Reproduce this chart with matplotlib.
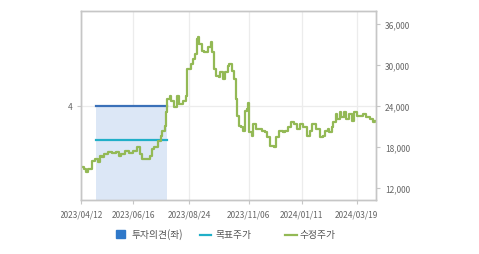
import matplotlib
matplotlib.use("Agg")
import pandas as pd
from matplotlib import pyplot as plt
from matplotlib.lines import Line2D
from matplotlib.patches import Rectangle

plt.rcParams['font.family'] = ['Noto Sans CJK KR', 'DejaVu Sans']

# adjusted close price (수정주가)
price_dates = [
    "2023-04-12", "2023-04-16", "2023-04-18", "2023-04-21", "2023-04-26", "2023-04-29",
    "2023-05-03", "2023-05-05", "2023-05-08", "2023-05-10", "2023-05-15", "2023-05-20",
    "2023-05-25", "2023-05-29", "2023-06-01", "2023-06-06", "2023-06-11", "2023-06-16",
    "2023-06-20", "2023-06-24", "2023-06-27", "2023-07-02", "2023-07-06", "2023-07-09",
    "2023-07-12", "2023-07-16", "2023-07-20", "2023-07-22", "2023-07-25", "2023-07-27",
    "2023-07-28", "2023-07-31", "2023-08-02", "2023-08-05", "2023-08-09", "2023-08-12",
    "2023-08-16", "2023-08-20", "2023-08-22", "2023-08-26", "2023-08-29", "2023-08-31",
    "2023-09-03", "2023-09-04", "2023-09-06", "2023-09-09", "2023-09-12", "2023-09-16",
    "2023-09-20", "2023-09-21", "2023-09-24", "2023-09-27", "2023-09-30", "2023-10-02",
    "2023-10-05", "2023-10-08", "2023-10-11", "2023-10-13", "2023-10-16", "2023-10-19",
    "2023-10-21", "2023-10-22", "2023-10-25", "2023-10-27", "2023-10-30", "2023-11-01",
    "2023-11-04", "2023-11-05", "2023-11-06", "2023-11-07", "2023-11-10", "2023-11-12",
    "2023-11-15", "2023-11-18", "2023-11-22", "2023-11-26", "2023-11-29", "2023-12-03",
    "2023-12-07", "2023-12-10", "2023-12-14", "2023-12-18", "2023-12-21", "2023-12-25",
    "2023-12-29", "2024-01-01", "2024-01-05", "2024-01-09", "2024-01-12", "2024-01-17",
    "2024-01-21", "2024-01-24", "2024-01-28", "2024-02-02", "2024-02-06", "2024-02-09",
    "2024-02-12", "2024-02-14", "2024-02-17", "2024-02-19", "2024-02-22", "2024-02-24",
    "2024-02-27", "2024-02-29", "2024-03-03", "2024-03-06", "2024-03-09", "2024-03-13",
    "2024-03-16", "2024-03-20", "2024-03-24", "2024-03-27", "2024-03-31", "2024-04-04",
    "2024-04-08", "2024-04-11",
]
prices = [
    15100, 14800, 14350, 14800, 16000, 16250,
    15800, 16700, 16500, 17000, 17250, 17100,
    17250, 16700, 17000, 17450, 17100, 17450,
    17950, 17000, 16250, 16250, 16700, 17700,
    18000, 18900, 19650, 20400, 21100, 23100,
    25000, 25500, 24800, 23800, 25500, 24300,
    24800, 25500, 29400, 30150, 30900, 31600,
    33800, 34050, 33100, 32100, 31850, 32600,
    33300, 31900, 29400, 28400, 28250, 29000,
    27950, 29000, 29900, 30150, 29150, 27950,
    25000, 22600, 21100, 20900, 20400, 23300,
    23550, 24500, 23100, 20200, 19650, 21350,
    20650, 20650, 20400, 20150, 19400, 18200,
    17950, 19400, 20400, 20150, 20400, 20900,
    21600, 21350, 20650, 21350, 20900, 19650,
    20400, 21350, 20650, 19400, 19650, 20400,
    20650, 20150, 20900, 21600, 22800, 22100,
    23100, 22350, 23100, 22100, 22800, 21850,
    23100, 22600, 22600, 22800, 22350, 22100,
    21600, 21850,
]

# investment opinion (투자의견, left axis) and target price (목표주가)
opinion_dates = ["2023-04-30", "2023-07-28"]
opinion_values = [4, 4]
target_dates = ["2023-04-30", "2023-07-28"]
target_values = [19000, 19000]

x_ticks = ["2023-04-12", "2023-06-16", "2023-08-24", "2023-11-06", "2024-01-11", "2024-03-19"]
price_ticks = [12000, 18000, 24000, 30000, 36000]

price_dates = pd.to_datetime(price_dates)
opinion_dates = pd.to_datetime(opinion_dates)
target_dates = pd.to_datetime(target_dates)
x_ticks = pd.to_datetime(x_ticks)

frame = '#c6c6c6'
txt = '#666666'

fig = plt.figure(figsize=(4.79, 2.55), dpi=100)
ax = fig.add_axes([81 / 479, 1 - 201 / 255, 295 / 479, 189 / 255])
ax2 = ax.twinx()

ax.fill_between(opinion_dates, 0, opinion_values, color='#dce7f6', lw=0)
ax.plot(opinion_dates, opinion_values, color='#3a70b8', lw=1.6)
ax2.plot(target_dates, target_values, color='#21afc8', lw=1.6)
ax2.plot(price_dates, prices, color='#93b955', lw=1.6, drawstyle='steps-post')

ax.set_xlim(pd.Timestamp("2023-04-12"), pd.Timestamp("2024-04-12"))
ax.set_ylim(0, 8)
ax.set_yticks([4])
ax.set_yticklabels(['4'])
ax2.set_ylim(10250, 37900)
ax2.set_yticks(price_ticks)
ax2.set_yticklabels([f"{v:,}" for v in price_ticks])
ax.set_xticks(x_ticks)
ax.set_xticklabels([d.strftime("%Y/%m/%d") for d in x_ticks])

ax.grid(True, color='#ececec', lw=0.9)
ax.set_axisbelow(True)

for a in (ax, ax2):
    for s in a.spines.values():
        s.set_color(frame)
        s.set_linewidth(1.0)
    a.tick_params(colors=frame, labelcolor=txt, labelsize=6, length=3, width=0.8)
ax.tick_params(axis='x', pad=4)
ax.tick_params(axis='y', pad=3)

# the first date label is cut at the left edge in the original
fig.patches.append(Rectangle((0, 1 - 218 / 255), 60 / 479, 16 / 255,
                             transform=fig.transFigure, color='white', zorder=5))

# legend
fig.patches.append(Rectangle((116 / 479, 1 - 239 / 255), 9 / 479, 8 / 255,
                             transform=fig.transFigure, color='#2f78c9'))
fig.text(131 / 479, 1 - 235 / 255, "투자의견(좌)", fontsize=7, color='#555555', va='center')
fig.lines.append(Line2D([200 / 479, 211 / 479], [1 - 236 / 255] * 2,
                        transform=fig.transFigure, color='#21afc8', lw=1.6))
fig.text(215 / 479, 1 - 235 / 255, "목표주가", fontsize=7, color='#555555', va='center')
fig.lines.append(Line2D([285 / 479, 297 / 479], [1 - 236 / 255] * 2,
                        transform=fig.transFigure, color='#93b955', lw=1.6))
fig.text(300 / 479, 1 - 235 / 255, "수정주가", fontsize=7, color='#555555', va='center')

fig.savefig("out.png", dpi=100)
